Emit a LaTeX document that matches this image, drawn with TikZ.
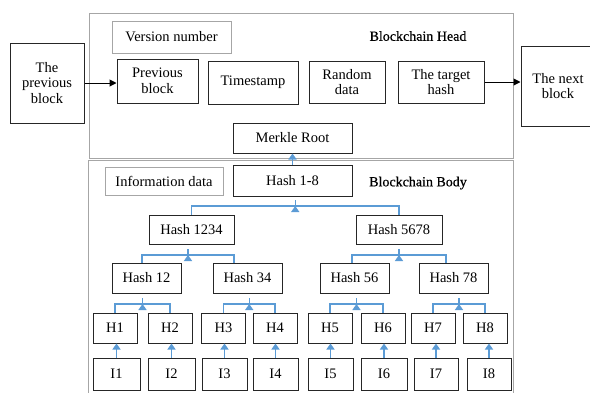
\documentclass[tikz,border=0pt]{standalone}
\usepackage{fontspec}
\setmainfont{Liberation Serif}
\newfontfamily\labfont[FakeBold=0.6]{Liberation Serif}
\usetikzlibrary{arrows.meta,calc}
\newcommand\dfont{\fontsize{14.5}{15.5}\selectfont}
\definecolor{bl}{HTML}{5B9BD5}
\definecolor{fr}{HTML}{A6A6A6}
\tikzset{
  box/.style={draw=black!85, line width=1pt, inner sep=0pt, align=center, font=\dfont},
  gbox/.style={draw=fr, line width=1pt, inner sep=0pt, align=center, font=\dfont},
  frame/.style={draw=fr, line width=1pt},
  barrow/.style={draw=bl, line width=1.4pt, -{Triangle[width=8pt,length=6pt]}},
  bline/.style={draw=bl, line width=1.4pt},
  karrow/.style={draw=black, line width=1pt, -{Triangle[width=7pt,length=7pt]}},
  lab/.style={font=\labfont\fontsize{14}{15}\selectfont, inner sep=0pt}
}
\begin{document}
\begin{tikzpicture}[x=1pt,y=-1pt]
\useasboundingbox (0,0) rectangle (590,392);
\clip (0,0) rectangle (590,392);
% frames
\draw[frame] (89,13) rectangle (513,158);
\draw[frame] (88,160) rectangle (513,398);
% outside blocks
\node[box, minimum width=74pt, minimum height=80pt] (prevout) at (47,83) {The\\previous\\block};
\node[box, minimum width=74pt, minimum height=80pt] (nextout) at (558,86) {The next\\block};
% head
\node[gbox, minimum width=119pt, minimum height=32pt] (ver) at (171.5,37) {Version number};
\node[lab] (headlab) at (418,36) {Blockchain Head};
\node[box, minimum width=81pt, minimum height=44pt] (previn) at (157.5,81) {Previous\\block};
\node[box, minimum width=90pt, minimum height=43pt] (ts) at (253,82.5) {Timestamp};
\node[box, minimum width=76pt, minimum height=42pt] (rand) at (347,82) {Random\\data};
\node[box, minimum width=86pt, minimum height=42pt] (target) at (441,82) {The target\\hash};
\node[box, minimum width=119pt, minimum height=30pt] (merkle) at (292.5,138) {Merkle Root};
% body
\node[gbox, minimum width=118pt, minimum height=28pt] (info) at (164,181) {Information data};
\node[box, minimum width=119pt, minimum height=31pt] (h18) at (292.5,180.5) {Hash 1-8};
\node[lab] (bodylab) at (418,183) {Blockchain Body};
\node[box, minimum width=85pt, minimum height=29pt] (h1234) at (191.5,229.5) {Hash 1234};
\node[box, minimum width=86pt, minimum height=29pt] (h5678) at (399,229.5) {Hash 5678};
\foreach \n/\x/\t in {h12/146.5/Hash 12, h34/247.5/Hash 34, h56/354.5/Hash 56, h78/453.5/Hash 78}
  \node[box, minimum width=69pt, minimum height=30pt] (\n) at (\x,278) {\t};
\foreach \n/\x/\t in {H1/115/H1, H2/170/H2, H3/223.5/H3, H4/275/H4, H5/330/H5, H6/383/H6, H7/433/H7, H8/485/H8}
  \node[box, minimum width=44pt, minimum height=30pt] (\n) at (\x,328) {\t};
\foreach \n/\x/\w in {I1/116.5/47, I2/171.5/47, I3/224.5/45, I4/275.5/45, I5/330.5/45, I6/384/46, I7/436/44, I8/489/44}
  \node[box, minimum width=\w pt, minimum height=32pt] (\n) at (\x,374) {\n};
% black arrows
\draw[karrow] (prevout.east) -- (prevout.east -| previn.west);
\draw[karrow] (target.east) -- (target.east -| nextout.west);
% blue connectors
\draw[barrow] (h18.north) -- (merkle.south);
\draw[bline] (h1234.north) -- ++(0,-8.5) -| (h5678.north);
\draw[barrow] ($(h1234.north)!0.5!(h5678.north)+(0,-8.5)$) -- ($(h1234.north)!0.5!(h5678.north)+(0,-8.5)$ |- h18.south);
% level 2
\draw[bline] ($(h12.north)+(-4.5,0)$) coordinate (a1) -- ++(0,-7.5) -| ($(h34.north)+(-13.5,0)$) coordinate (a2);
\draw[barrow] ($(a1)!0.5!(a2)+(0,-7.5)$) -- ($(a1)!0.5!(a2)+(0,-7.5)$ |- h1234.south);
\draw[bline] ($(h56.north)+(-2.5,0)$) coordinate (b1) -- ++(0,-7.5) -| ($(h78.north)+(-7.5,0)$) coordinate (b2);
\draw[barrow] ($(b1)!0.5!(b2)+(0,-7.5)$) -- ($(b1)!0.5!(b2)+(0,-7.5)$ |- h5678.south);
% level 3
\foreach \l/\r/\p in {H1/H2/h12, H3/H4/h34, H5/H6/h56, H7/H8/h78}{
  \draw[bline] (\l.north) -- ++(0,-8.5) -| (\r.north);
  \draw[barrow] ($(\l.north)!0.5!(\r.north)+(0,-8.5)$) -- ($(\l.north)!0.5!(\r.north)+(0,-8.5)$ |- \p.south);
}
% leaves
\foreach \i in {1,...,8}
  \draw[barrow] (I\i.north) -- (I\i.north |- H\i.south);
\end{tikzpicture}
\end{document}
